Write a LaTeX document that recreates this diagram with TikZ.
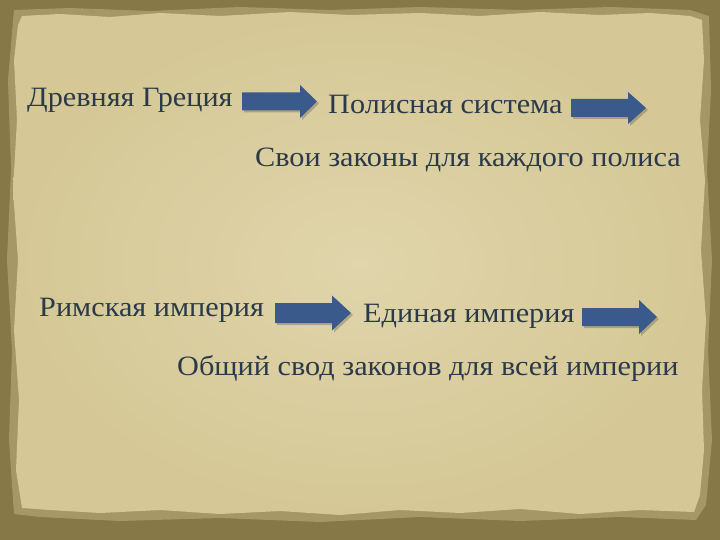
\documentclass[tikz,border=0pt]{standalone}
\usepackage{fontspec}
\setmainfont{Liberation Serif}
\newfontfamily\slidefont[FakeStretch=1.08]{Liberation Serif}
\definecolor{outerbg}{HTML}{877848}
\definecolor{bandbg}{HTML}{A69766}
\definecolor{paperin}{HTML}{E0D5AB}
\definecolor{paperout}{HTML}{D5C896}
\definecolor{txt}{HTML}{2B3A4A}
\definecolor{arrowblue}{HTML}{3A5A8C}
\tikzset{
  lbl/.style={anchor=base west, inner sep=0pt, text=txt, font=\slidefont\fontsize{28}{32}\selectfont},
  blockarrow/.style={fill=arrowblue},
  arrowshadow/.style={fill=black, opacity=0.2}
}
\newcommand{\blockarr}[6]{% x0, x1(head start), x2(tip), yc, half body, half head
  \fill[arrowshadow] (#1+2,#4-#5+2) -- (#2+2,#4-#5+2) -- (#2+2,#4-#6+2) -- (#3+2,#4+2) -- (#2+2,#4+#6+2) -- (#2+2,#4+#5+2) -- (#1+2,#4+#5+2) -- cycle;
  \fill[blockarrow] (#1,#4-#5) -- (#2,#4-#5) -- (#2,#4-#6) -- (#3,#4) -- (#2,#4+#6) -- (#2,#4+#5) -- (#1,#4+#5) -- cycle;
}
\begin{document}
\begin{tikzpicture}[x=1pt,y=-1pt]
\useasboundingbox (0,0) rectangle (720,540);
\fill[outerbg] (0,0) rectangle (720,540);
\fill[bandbg] (14,10) -- (70,8) -- (150,11) -- (240,7) -- (330,10) -- (420,7) -- (520,10) -- (610,7) -- (690,10) -- (709,16) -- (711,90) -- (707,170) -- (712,260) -- (708,350) -- (712,440) -- (706,505) -- (696,520) -- (620,517) -- (520,521) -- (420,517) -- (320,522) -- (220,518) -- (120,521) -- (40,517) -- (14,514) -- (9,440) -- (12,350) -- (7,260) -- (11,170) -- (8,80) -- cycle;
\shade[inner color=paperin, outer color=paperout]
 (22,16) -- (60,14) -- (110,17) -- (160,13) -- (220,16) -- (290,12) -- (350,15) -- (420,13) -- (480,16) -- (540,12) -- (600,15) -- (650,13) -- (690,16) -- (702,20) -- (704,60) -- (700,120) -- (705,180) -- (701,250) -- (706,320) -- (702,390) -- (704,450) -- (700,495) -- (694,512) -- (640,510) -- (580,514) -- (520,509) -- (460,513) -- (400,510) -- (340,515) -- (280,511) -- (220,514) -- (160,510) -- (100,513) -- (50,510) -- (22,508) -- (16,470) -- (19,400) -- (14,330) -- (18,260) -- (13,190) -- (17,120) -- (14,60) -- (18,25) -- cycle;
% arrows
\blockarr{242}{300}{317}{101.5}{9}{16.5}
\blockarr{571}{628}{646}{108}{9}{16}
\blockarr{275}{332}{351}{313}{10}{17.5}
\blockarr{582}{639}{657}{317}{9}{17}
% texts
\node[lbl] (greece) at (27,106.7) {Древняя Греция};
\node[lbl] (polis) at (328,113.3) {Полисная система};
\node[lbl] (laws1) at (255,166.7) {Свои законы для каждого полиса};
\node[lbl] (rome) at (39,316.7) {Римская империя};
\node[lbl] (empire) at (363,322.3) {Единая империя};
\node[lbl] (laws2) at (177,375) {Общий свод законов для всей империи};
\end{tikzpicture}
\end{document}
